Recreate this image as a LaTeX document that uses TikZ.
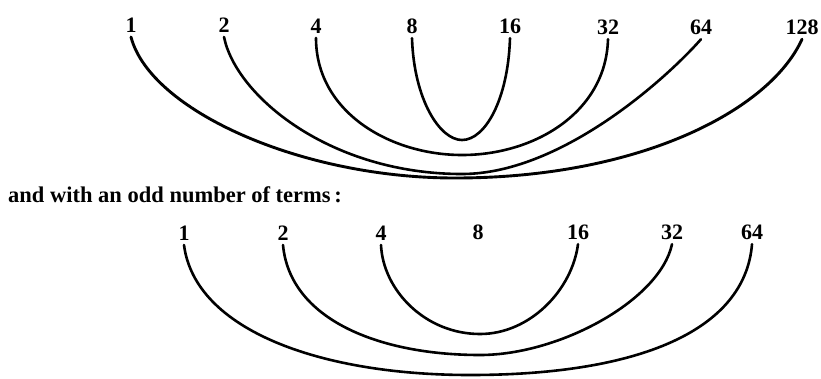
\documentclass[tikz,border=0pt]{standalone}
\usepackage{fontspec}
\setmainfont{Liberation Serif}
\begin{document}
\begin{tikzpicture}[x=1pt,y=-1pt,
  num/.style={font=\fontsize{22}{22}\selectfont\bfseries, inner sep=0pt, outer sep=5pt, anchor=base},
  arc/.style={line width=2.6pt, line cap=round},
  wide/.style={line width=2.9pt, line cap=round}]
\useasboundingbox (0,0) rectangle (821,378);
% top row
\node[num] (t1)   at (131,32) {1};
\node[num] (t2)   at (224,32) {2};
\node[num] (t4)   at (316,33) {4};
\node[num] (t8)   at (412,33) {8};
\node[num] (t16)  at (510,33) {16};
\node[num] (t32)  at (608,34) {32};
\node[num] (t64)  at (701,34) {64};
\node[num] (t128) at (802,34) {128};
\coordinate (b816)  at (462,140);
\coordinate (b432)  at (462,155);
\coordinate (b264)  at (462,174);
\coordinate (b1128) at (455,178);
\draw[arc] (t8.south) .. controls (414,100) and (440,140) .. (b816)
                      .. controls (485,140) and (508,100) .. (t16.south);
\draw[arc] (t4.south) .. controls (316,112) and (390,155) .. (b432)
                      .. controls (535,155) and (606,112) .. (t32.south);
\draw[arc] (t2.south) .. controls (236,96) and (330,174) .. (b264)
                      .. controls (560,174) and (665,80) .. (t64.south);
\draw[wide] (t1.south) .. controls (150,110) and (300,178) .. (b1128)
                       .. controls (640,178) and (770,110) .. (t128.south);
% caption
\node[font=\fontsize{22.5}{24}\selectfont\bfseries, inner sep=0pt, anchor=base west] (cap) at (8,202) {and with an odd number of terms\,:};
% bottom row
\node[num] (u1)  at (184,240) {1};
\node[num] (u2)  at (283,240) {2};
\node[num] (u4)  at (381,240) {4};
\node[num] (u8)  at (478,239) {8};
\node[num] (u16) at (578,239) {16};
\node[num] (u32) at (672,239) {32};
\node[num] (u64) at (752,239) {64};
\coordinate (c416) at (480,334);
\coordinate (c232) at (480,355);
\coordinate (c164) at (470,375);
\draw[arc] (u4.south) .. controls (383,290) and (425,334) .. (c416)
                      .. controls (530,334) and (572,290) .. (u16.south);
\draw[arc] (u2.south) .. controls (290,320) and (380,355) .. (c232)
                      .. controls (560,355) and (660,300) .. (u32.south);
\draw[arc] (u1.south) .. controls (195,330) and (320,375) .. (c164)
                      .. controls (640,375) and (745,330) .. (u64.south);
\end{tikzpicture}
\end{document}
